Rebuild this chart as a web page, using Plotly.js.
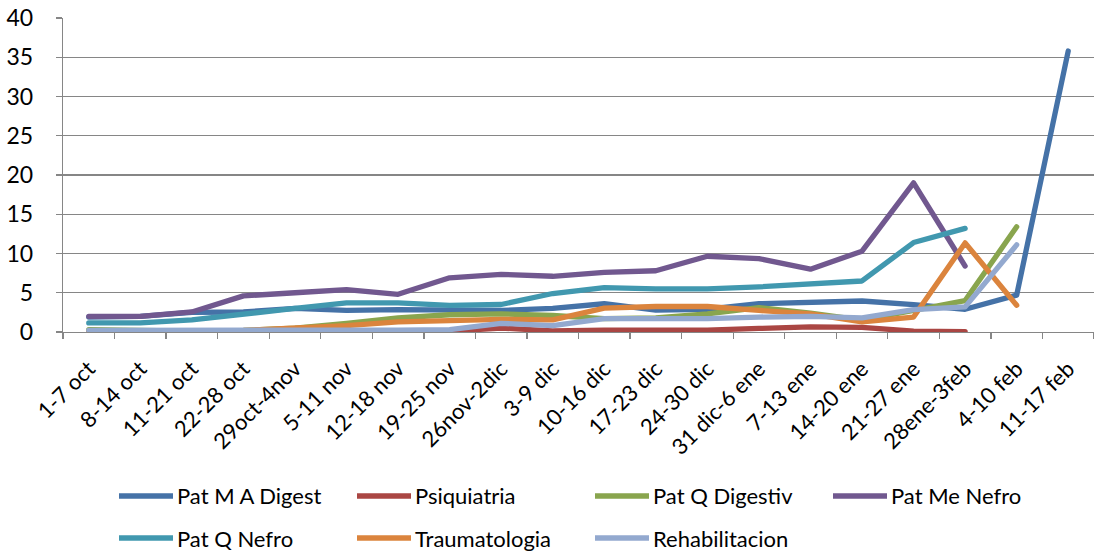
<!DOCTYPE html>
<html>
<head>
<meta charset="utf-8">
<script src="https://cdn.plot.ly/plotly-3.0.1.min.js"></script>
<style>
html,body{margin:0;padding:0;background:#fff;}
#chart{width:1094px;height:554px;}
.js-line{stroke-linecap:round;stroke-linejoin:round;}
</style>
</head>
<body>
<div id="chart"></div>
<script>
const categories = ["1-7 oct","8-14 oct","11-21 oct","22-28 oct","29oct-4nov","5-11 nov","12-18 nov","19-25 nov","26nov-2dic","3-9 dic","10-16 dic","17-23 dic","24-30 dic","31 dic-6 ene","7-13 ene","14-20 ene","21-27 ene","28ene-3feb","4-10 feb","11-17 feb"];

const seriesNames = ["Pat M A Digest","Psiquiatria","Pat Q Digestiv","Pat Me Nefro","Pat Q Nefro","Traumatologia","Rehabilitacion"];

const patMADigest   = [1.9, 2.0, 2.5, 2.55, 3.0, 2.75, 2.85, 2.85, 2.75, 3.0, 3.6, 2.8, 2.9, 3.6, 3.7, 3.95, 3.5, 2.9, 4.7, 35.8];
const psiquiatria   = [0, 0, 0, 0, 0, 0, 0.05, 0.1, 0.5, 0.15, 0.25, 0.2, 0.25, 0.45, 0.65, 0.6, 0.1, 0.05, null, null];
const patQDigestiv  = [0.3, 0.2, 0.1, 0.2, 0.5, 1.1, 1.8, 2.2, 2.3, 2.1, 1.7, 1.8, 2.3, 3.1, 2.4, 1.5, 2.8, 4.0, 13.4, null];
const patMeNefro    = [2.0, 2.0, 2.55, 4.6, 5.0, 5.4, 4.8, 6.9, 7.35, 7.1, 7.6, 7.8, 9.65, 9.35, 8.0, 10.3, 19.0, 8.4, null, null];
const patQNefro     = [1.15, 1.15, 1.55, 2.35, 3.0, 3.7, 3.7, 3.4, 3.5, 4.9, 5.65, 5.5, 5.5, 5.75, 6.1, 6.5, 11.4, 13.2, null, null];
const traumatologia = [0, 0, 0.05, 0.2, 0.5, 0.8, 1.3, 1.5, 1.6, 1.55, 3.05, 3.25, 3.25, 2.75, 2.3, 1.3, 1.9, 11.35, 3.4, null];
const rehabilitacion= [0.2, 0.2, 0.1, 0.1, 0.15, 0.2, 0.25, 0.3, 1.1, 0.8, 1.7, 1.7, 1.7, 1.9, 2.0, 1.8, 2.85, 3.2, 11.1, null];

const seriesValues = [patMADigest, psiquiatria, patQDigestiv, patMeNefro, patQNefro, traumatologia, rehabilitacion];
const colors = ["#4572A7","#AA4643","#89A54E","#71588F","#4198AF","#DB843D","#93A9CF"];

const FONT = "Lato, 'Open Sans', sans-serif";
const W = 1094, H = 554;
const mL = 63, mR = 0, mT = 18, mB = 222;
const pw = W - mL - mR, ph = H - mT - mB;
const px2x = p => (p - mL) / pw;
const py2y = p => (H - mB - p) / ph;

const traces = seriesNames.map((name, i) => ({
  type: "scatter",
  mode: "lines",
  name: name,
  x: categories,
  y: seriesValues[i],
  line: {color: colors[i], width: 5.3},
  connectgaps: false,
  showlegend: false,
  hoverinfo: "x+y+name"
}));

// custom legend (two rows, four columns)
const shapes = [], annotations = [];
const colStart = [119, 357, 595, 833];
const rowY = [496, 538];
seriesNames.forEach((name, i) => {
  const c = i % 4, r = Math.floor(i / 4);
  const x0 = colStart[c];
  shapes.push({type: "line", xref: "paper", yref: "paper",
    x0: px2x(x0), x1: px2x(x0 + 54), y0: py2y(rowY[r]), y1: py2y(rowY[r]),
    line: {color: colors[i], width: 5.3}});
  annotations.push({xref: "paper", yref: "paper", x: px2x(x0 + 56), y: py2y(rowY[r]),
    xanchor: "left", yanchor: "middle", showarrow: false, text: name,
    font: {family: FONT, size: 22, color: "#000"}});
});

const layout = {
  width: W, height: H,
  margin: {l: mL, r: mR, t: mT, b: mB, pad: 0},
  paper_bgcolor: "#fff", plot_bgcolor: "#fff",
  showlegend: false,
  font: {family: FONT, color: "#000"},
  xaxis: {
    type: "category",
    range: [-0.5, categories.length - 0.5],
    tickangle: -45,
    tickson: "boundaries",
    ticks: "outside", ticklen: 6, tickcolor: "#868686", tickwidth: 1.3,
    showline: true, linecolor: "#868686", linewidth: 1.3,
    showgrid: false, zeroline: false,
    tickfont: {family: FONT, size: 22, color: "#000"},
    ticklabelstandoff: 14,
    fixedrange: true
  },
  yaxis: {
    range: [0, 40], dtick: 5, tick0: 0,
    ticks: "outside", ticklen: 6, tickcolor: "#868686", tickwidth: 1.3,
    showline: true, linecolor: "#868686", linewidth: 1.3,
    showgrid: true, gridcolor: "#868686", gridwidth: 1.3,
    zeroline: false,
    tickfont: {family: FONT, size: 23, color: "#000"},
    ticklabelstandoff: 18,
    fixedrange: true
  },
  shapes: shapes,
  annotations: annotations
};

Plotly.newPlot("chart", traces, layout, {displayModeBar: false, staticPlot: true});
</script>
</body>
</html>
